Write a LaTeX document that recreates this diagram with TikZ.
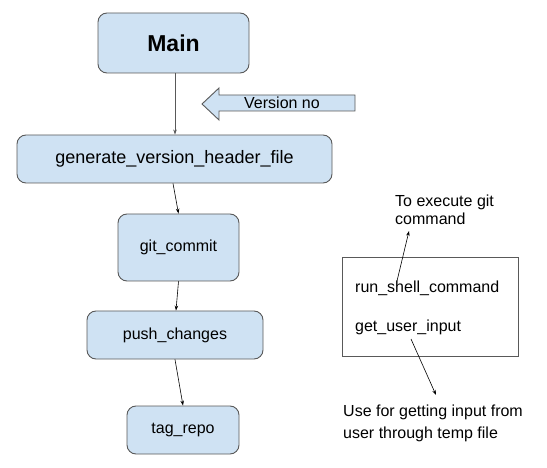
\documentclass[tikz,border=0pt]{standalone}
\usepackage{fontspec}
\setmainfont{Liberation Sans}
\usetikzlibrary{arrows.meta,calc}
\definecolor{boxfill}{HTML}{CFE2F3}
\definecolor{boxline}{HTML}{595959}
\tikzset{
  x=1pt, y=-1pt,
  flowbox/.style={draw=boxline, fill=boxfill, line width=0.9pt, rounded corners=9pt,
    inner sep=0pt, font=\fontsize{16}{18}\selectfont},
  plainbox/.style={draw=boxline, line width=0.9pt, inner sep=0pt},
  lbl/.style={inner sep=0pt, font=\fontsize{16}{18}\selectfont},
  conn/.style={line width=0.6pt, -{Stealth[length=5pt,width=3.5pt]}},
}
\begin{document}
\begin{tikzpicture}
\useasboundingbox (0,0) rectangle (547,468);
% flow boxes
\node[flowbox, minimum width=151pt, minimum height=60pt, font=\fontsize{23}{26}\selectfont\bfseries] (main) at (173.5,43) {Main};
\node[flowbox, minimum width=315pt, minimum height=48pt, font=\fontsize{18}{20}\selectfont] (gen) at (174.5,159) {generate\_version\_header\_file};
\node[flowbox, minimum width=121pt, minimum height=67pt] (git) at (178.5,247.5) {git\_commit};
\node[flowbox, minimum width=176pt, minimum height=48pt] (push) at (175,335) {push\_changes};
\node[flowbox, minimum width=112pt, minimum height=48pt] (tag) at (183,430) {tag\_repo};
% connectors
\draw[conn, draw=boxline] ([xshift=1.5pt]main.south) -- ([xshift=1.5pt]main.south |- gen.north);
\draw[conn] ([xshift=-1.5pt]gen.south) -- (git.north);
\draw[conn] (git.south) -- ([xshift=1pt]push.north);
\draw[conn] (push.south) -- (tag.north);
% version arrow
\draw[draw=boxline, fill=boxfill, line width=0.9pt]
  (355,95) -- (219,95) -- (219,88) -- (202,104) -- (219,120) -- (219,111) -- (355,111) -- cycle;
\node[lbl] (ver) at (282,103) {Version no};
% right box
\node[plainbox, minimum width=176pt, minimum height=99pt] (util) at (430,306.5) {};
\node[lbl, anchor=west] (run) at (355,288) {run\_shell\_command};
\node[lbl, anchor=west] (get) at (355,327) {get\_user\_input};
\node[lbl, anchor=north west, align=left] (exec) at (395,194.5) {To execute git\\command};
\node[lbl, anchor=north west, align=left, font=\fontsize{16}{22}\selectfont] (use) at (343,405) {Use for getting input from\\user through temp file};
\coordinate (runpt) at (397,281);
\coordinate (execpt) at (409,231);
\coordinate (getpt) at (411,339);
\coordinate (usept) at (436,395);
\draw[conn] (runpt) -- (execpt);
\draw[conn] (getpt) -- (usept);
\end{tikzpicture}
\end{document}
